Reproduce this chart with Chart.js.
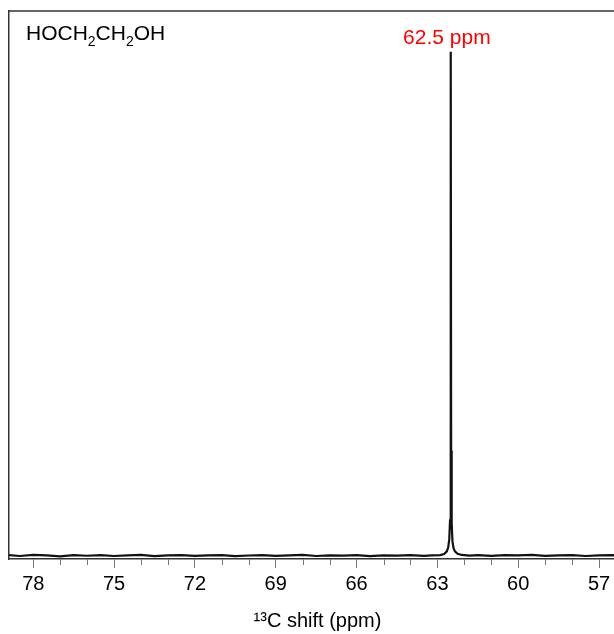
<!DOCTYPE html>
<html>
<head>
<meta charset="utf-8">
<script src="https://cdn.jsdelivr.net/npm/chart.js@4.4.1/dist/chart.umd.min.js"></script>
<style>
  html, body { margin: 0; padding: 0; background: #fff; overflow: hidden; }
  #wrap { width: 626px; height: 634px; position: relative; }
</style>
</head>
<body>
<div id="wrap"><canvas id="nmrChart"></canvas></div>
<script>
// 13C spectrum of ethylene glycol, single CH2 resonance
const shift = [
  78.9, 78.5, 78.0, 77.5, 77.0, 76.5, 76.0, 75.5, 75.0, 74.5,
  74.0, 73.5, 73.0, 72.5, 72.0, 71.5, 71.0, 70.5, 70.0, 69.5,
  69.0, 68.5, 68.0, 67.5, 67.0, 66.5, 66.0, 65.5, 65.0, 64.5,
  64.0, 63.5, 63.2, 62.9, 62.75, 62.65, 62.6, 62.56, 62.53, 62.51,
  62.5, 62.49, 62.47, 62.44, 62.4, 62.35, 62.25, 62.1, 61.8, 61.5,
  61.0, 60.5, 60.0, 59.5, 59.0, 58.5, 58.0, 57.5, 57.0, 56.5, 56.0
];
const intensity = [
  0.10, -0.05, 0.15, 0.05, -0.10, 0.10, 0.00, 0.12, -0.05, 0.08,
  0.15, -0.08, 0.05, 0.10, -0.04, 0.06, 0.12, -0.06, 0.04, 0.10,
  -0.02, 0.08, 0.14, -0.05, 0.06, 0.02, 0.10, -0.06, 0.08, 0.03,
  0.12, -0.02, 0.06, 0.12, 0.30, 0.80, 1.5, 3.0, 6.5, 66.2,
  92.5, 19.3, 6.0, 2.6, 1.4, 0.8, 0.35, 0.14, 0.02, 0.12,
  -0.04, 0.10, 0.05, 0.14, -0.02, 0.08, 0.12, -0.05, 0.06, 0.12, 0.02
];

const majorTicks = [78, 75, 72, 69, 66, 63, 60, 57];
const minorTicks = [77, 76, 74, 73, 71, 70, 68, 67, 65, 64, 62, 61, 59, 58];

const peakShift = 62.5;
const compound = [["HOCH", false], ["2", true], ["CH", false], ["2", true], ["OH", false]];

const FONT = "'Liberation Sans', Arial, sans-serif";

// frame top, minor ticks and text annotations
const decorations = {
  id: "decorations",
  afterDraw(chart) {
    const { ctx, chartArea: a, scales: { x } } = chart;
    ctx.save();

    ctx.strokeStyle = "#333";
    ctx.lineWidth = 1.5;
    ctx.beginPath();
    ctx.moveTo(a.left, a.top);
    ctx.lineTo(a.right, a.top);
    ctx.stroke();

    ctx.strokeStyle = "#777";
    ctx.lineWidth = 1;
    minorTicks.forEach(v => {
      const px = Math.round(x.getPixelForValue(v)) + 0.5;
      ctx.beginPath();
      ctx.moveTo(px, a.bottom);
      ctx.lineTo(px, a.bottom + 6);
      ctx.stroke();
    });

    // compound formula with subscripts
    let cx = 26;
    ctx.fillStyle = "#000";
    ctx.textBaseline = "alphabetic";
    ctx.textAlign = "left";
    compound.forEach(([txt, sub]) => {
      ctx.font = (sub ? "14px " : "21px ") + FONT;
      ctx.fillText(txt, cx, sub ? 46 : 40);
      cx += ctx.measureText(txt).width;
    });

    // peak position label
    ctx.fillStyle = "#ff0000";
    ctx.font = "21px " + FONT;
    ctx.textAlign = "center";
    ctx.fillText(peakShift.toFixed(1) + " ppm", x.getPixelForValue(peakShift) - 4, 44);

    ctx.restore();
  }
};

const ctx = document.getElementById("nmrChart").getContext("2d");
const nmrChart = new Chart(ctx, {
  type: "line",
  data: {
    datasets: [{
      data: shift.map((s, i) => ({ x: s, y: intensity[i] })),
      borderColor: "#111",
      borderWidth: 2.2,
      pointRadius: 0,
      tension: 0
    }]
  },
  options: {
    responsive: true,
    maintainAspectRatio: false,
    animation: false,
    layout: { padding: { top: 11, left: 9, right: 0, bottom: 0 } },
    plugins: {
      legend: { display: false },
      tooltip: { enabled: false }
    },
    scales: {
      x: {
        type: "linear",
        reverse: true,
        min: 56.0,
        max: 78.9,
        afterBuildTicks: scale => {
          scale.ticks = majorTicks.map(v => ({ value: v }));
        },
        ticks: {
          color: "#000",
          font: { family: FONT, size: 20 },
          padding: 4,
          maxRotation: 0,
          autoSkip: false
        },
        grid: {
          drawOnChartArea: false,
          tickLength: 9,
          tickColor: "#777",
          tickWidth: 1
        },
        border: { color: "#333", width: 1.5 },
        title: {
          display: true,
          text: "¹³C shift (ppm)",
          color: "#000",
          font: { family: FONT, size: 20 },
          padding: { top: 9, bottom: 1 }
        }
      },
      y: {
        min: -0.6,
        max: 100,
        ticks: { display: false },
        grid: { display: false, drawTicks: false },
        border: { color: "#333", width: 1.5 }
      }
    }
  },
  plugins: [decorations]
});
</script>
</body>
</html>
